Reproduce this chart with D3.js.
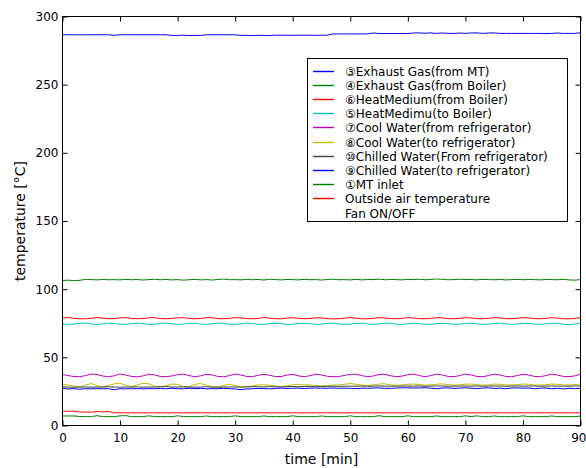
<!DOCTYPE html>
<html>
<head>
<meta charset="utf-8">
<script src="https://cdn.jsdelivr.net/npm/d3@7"></script>
<style>
  html, body { margin: 0; padding: 0; background: #fff; }
  svg { display: block; }
  text { font-family: "DejaVu Sans", "Liberation Sans", sans-serif; fill: #000; }
</style>
</head>
<body>
<svg id="chart" width="586" height="468"></svg>
<script>
// Sampling times (minutes)
const minutes = [0,1,2,3,4,5,6,7,8,9,10,11,12,13,14,15,16,17,18,19,20,21,22,23,24,25,26,27,28,29,30,31,32,33,34,35,36,37,38,39,40,41,42,43,44,45,46,47,48,49,50,51,52,53,54,55,56,57,58,59,60,61,62,63,64,65,66,67,68,69,70,71,72,73,74,75,76,77,78,79,80,81,82,83,84,85,86,87,88,89,90];

// Temperatures [°C] per measuring point
const exhaustGasMT = [286.6,286.6,286.6,286.5,286.6,286.6,286.6,286.6,286.6,286.2,286.6,286.6,286.6,286.6,286.6,286.6,286.6,286.6,286.6,286.1,286.1,286.3,286.0,286.2,286.1,286.6,286.6,286.6,286.6,286.6,286.6,286.1,286.2,286.0,286.2,286.1,286.0,286.3,286.3,286.3,286.2,286.3,286.3,286.3,286.2,286.3,286.3,287.2,287.2,287.2,287.2,287.2,287.2,287.3,287.9,287.5,287.5,287.5,287.5,287.5,287.5,287.9,288.0,287.7,288.0,287.6,287.9,287.6,287.6,287.9,287.6,287.9,288.0,287.6,287.9,288.0,287.6,287.6,287.6,287.6,287.6,287.6,287.6,287.6,287.5,287.6,287.9,287.6,287.6,287.6,288.1];
const exhaustGasBoiler = [106.4,106.6,106.2,106.5,107.2,107.0,106.8,107.1,106.9,107.0,106.8,107.2,106.9,107.1,106.7,107.0,107.3,106.9,107.1,106.8,107.0,106.6,106.9,107.2,106.8,107.0,106.7,107.1,107.4,106.9,107.0,106.8,107.2,106.9,107.1,106.7,107.3,107.0,106.8,107.1,107.0,106.8,107.2,106.9,107.0,106.7,107.1,107.3,106.9,107.0,106.8,107.2,106.8,107.1,107.0,107.4,106.9,107.1,107.0,106.8,107.2,107.0,107.3,106.9,107.1,107.5,107.2,106.9,107.0,107.3,107.0,107.1,106.8,107.2,107.0,106.9,107.1,106.8,107.0,107.2,106.9,107.1,107.0,106.8,107.1,107.0,106.9,107.2,106.8,106.6,107.0];
const heatMediumFromBoiler = [78.8,79.2,78.6,78.3,78.3,78.7,79.2,78.7,78.3,78.4,79.0,79.1,78.5,78.3,78.5,79.0,79.1,78.5,78.3,78.5,79.0,79.1,78.5,78.3,78.5,79.1,79.0,78.4,78.3,78.6,79.1,79.0,78.4,78.3,78.6,79.2,78.8,78.3,78.3,78.8,79.1,78.6,78.3,78.5,79.0,78.9,78.4,78.2,78.3,78.7,79.1,78.8,78.3,78.3,78.6,79.1,78.9,78.4,78.3,78.6,79.1,78.9,78.4,78.3,78.6,79.1,78.9,78.4,78.3,78.6,79.1,78.9,78.4,78.3,78.6,79.1,78.9,78.4,78.3,78.6,79.1,78.9,78.4,78.3,78.6,79.1,78.8,78.3,78.2,78.5,79.1];
const heatMediumToBoiler = [74.6,74.2,74.4,75.0,75.1,74.5,74.2,74.5,75.1,74.9,74.3,74.2,74.7,75.1,74.7,74.2,74.3,74.9,75.1,74.5,74.2,74.4,75.0,75.0,74.4,74.2,74.5,75.1,74.9,74.3,74.2,74.6,75.1,74.8,74.2,74.2,74.7,75.1,74.7,74.2,74.3,74.8,75.1,74.6,74.2,74.3,74.9,75.1,74.5,74.2,74.4,75.0,75.0,74.4,74.2,74.5,75.1,74.9,74.3,74.2,74.6,75.1,74.8,74.2,74.2,74.7,75.1,74.7,74.2,74.3,74.8,75.1,74.6,74.2,74.3,74.9,75.1,74.5,74.2,74.4,75.0,75.0,74.4,74.2,74.5,75.1,74.9,74.3,73.9,74.4,75.2];
const coolWaterFrom = [37.4,36.6,35.9,35.8,36.6,37.7,37.4,36.3,35.8,36.5,37.8,37.0,36.0,35.7,36.4,37.6,37.1,36.0,35.8,36.3,37.3,37.7,36.6,35.8,36.4,37.6,37.0,36.0,35.7,36.6,37.8,37.0,36.0,35.8,36.8,37.6,36.8,35.9,35.9,37.0,37.5,36.4,35.8,36.5,37.6,37.0,36.1,35.8,35.9,36.7,37.5,37.6,36.6,35.8,36.3,37.4,37.6,36.5,35.8,36.2,37.3,37.7,36.6,35.8,36.6,37.7,37.0,36.0,35.8,36.6,37.7,37.0,36.0,35.8,36.6,37.7,37.0,36.0,35.8,36.6,37.6,37.0,36.0,35.8,36.6,37.7,37.0,36.0,35.8,36.4,37.6];
const coolWaterTo = [30.0,29.8,28.8,28.4,29.6,30.8,29.2,28.3,29.4,30.6,31.0,29.6,28.4,29.8,31.0,30.6,28.8,28.2,29.2,30.4,30.2,28.6,28.4,30.2,30.8,29.6,28.3,28.4,29.4,30.2,29.4,28.3,28.4,29.0,29.8,29.8,29.6,29.0,28.5,29.2,29.8,30.0,29.8,29.7,29.4,29.0,29.3,29.6,29.8,30.2,30.8,30.2,29.6,29.4,29.8,30.4,30.6,29.8,29.5,29.7,30.2,30.4,30.0,29.6,29.8,30.3,30.5,30.0,29.6,29.8,30.3,30.4,29.9,29.6,29.8,30.4,30.2,29.8,29.7,30.0,30.4,30.2,29.7,29.6,29.9,30.4,30.2,29.8,29.7,30.0,30.4];
const chilledWaterFrom = [28.4,28.2,28.1,28.2,28.2,28.1,28.2,28.2,28.4,28.2,28.1,28.2,28.2,28.3,28.1,28.2,28.2,28.4,28.6,28.2,28.2,28.3,28.2,28.1,28.2,28.4,28.2,28.1,28.2,28.3,28.2,28.2,28.3,28.5,28.4,28.3,28.5,28.4,28.3,28.5,28.6,28.5,28.6,28.7,28.5,28.6,28.7,28.8,28.7,28.8,28.9,28.8,28.9,28.8,28.9,29.0,28.9,28.8,28.9,29.0,28.9,28.9,29.0,28.8,28.9,29.0,28.9,28.8,28.9,29.0,28.9,28.9,29.0,28.8,28.9,29.0,28.9,28.8,28.9,29.0,28.9,28.9,29.0,28.8,28.9,29.0,28.9,28.8,28.9,29.0,29.0];
const chilledWaterTo = [27.2,26.8,27.0,26.6,27.0,26.9,27.0,26.9,27.0,26.2,27.0,26.9,27.0,27.0,26.9,27.0,27.0,27.1,27.0,27.3,27.0,26.9,27.4,27.0,27.2,26.9,27.0,27.0,27.3,27.0,26.8,26.3,26.8,27.0,27.2,27.0,26.9,27.2,27.4,27.2,27.3,27.4,27.2,27.4,27.5,27.3,27.4,27.5,27.3,27.4,27.3,27.0,27.4,27.3,27.5,27.6,27.3,27.2,27.5,27.7,27.6,27.5,27.6,27.7,27.4,27.0,27.5,27.6,27.2,27.5,27.6,27.4,27.1,27.5,27.6,27.2,27.4,27.0,27.5,27.6,27.4,27.5,27.0,27.4,27.5,26.9,27.3,26.8,27.4,27.0,27.3];
const mtInlet = [7.0,7.0,7.0,6.6,6.5,6.5,7.2,6.5,6.5,6.5,7.1,7.2,6.5,6.5,6.5,7.1,6.5,6.5,6.5,6.5,7.1,6.6,6.5,6.5,6.5,7.0,6.5,6.5,6.5,6.5,7.1,6.5,6.5,6.5,6.5,7.0,6.5,6.5,6.5,6.5,7.1,6.5,6.5,6.5,6.5,7.0,6.5,6.5,6.5,6.5,7.1,6.5,6.5,6.5,6.5,7.2,6.5,6.5,6.5,6.5,7.1,6.5,6.5,6.5,6.5,7.0,6.5,6.5,6.5,6.5,7.1,6.5,7.1,6.5,6.5,7.0,6.5,6.5,6.5,6.5,7.1,6.5,6.5,6.5,6.5,7.0,6.5,6.5,6.5,6.5,6.9];
const outsideAir = [10.4,10.5,10.5,9.9,9.8,9.8,10.3,9.9,10.3,9.3,9.3,9.3,9.3,9.3,9.3,9.3,9.3,9.3,9.3,9.3,9.3,9.3,9.3,9.3,9.3,9.3,9.3,9.3,9.3,9.3,9.3,9.3,9.3,9.3,9.3,9.3,9.3,9.3,9.3,9.3,9.3,9.3,9.3,9.3,9.3,9.3,9.3,9.3,9.3,9.3,9.3,9.3,9.3,9.3,9.3,9.3,9.3,9.3,9.3,9.3,9.3,9.3,9.3,9.3,9.3,9.3,9.3,9.3,9.3,9.3,9.3,9.3,9.3,9.3,9.3,9.3,9.3,9.3,9.3,9.3,9.3,9.3,9.3,9.3,9.3,9.3,9.3,9.3,9.3,9.3,9.3];

// Legend entries (order as listed), colours and axis settings
const seriesNames = [
  "③Exhaust Gas(from MT)",
  "④Exhaust Gas(from Boiler)",
  "⑥HeatMedium(from Boiler)",
  "⑤HeatMedimu(to Boiler)",
  "⑦Cool Water(from refrigerator)",
  "⑧Cool Water(to refrigerator)",
  "⑩Chilled Water(From refrigerator)",
  "⑨Chilled Water(to refrigerator)",
  "①MT inlet",
  "Outside air temperature",
  "Fan ON/OFF"
];
const seriesValues = [exhaustGasMT, exhaustGasBoiler, heatMediumFromBoiler, heatMediumToBoiler,
  coolWaterFrom, coolWaterTo, chilledWaterFrom, chilledWaterTo, mtInlet, outsideAir, null];
const seriesColors = ["#0000ff", "#008000", "#ff0000", "#00bfbf", "#bf00bf", "#bfbf00",
  "#404040", "#0000ff", "#008000", "#ff0000", null];
const xTicks = [0, 10, 20, 30, 40, 50, 60, 70, 80, 90];
const yTicks = [0, 50, 100, 150, 200, 250, 300];
const xLabel = "time [min]";
const yLabel = "temperature [°C]";

const svg = d3.select("#chart");
const plot = { left: 62.5, right: 580.5, top: 16.5, bottom: 425.5 };

const x = d3.scaleLinear().domain([0, 90]).range([plot.left, plot.right]);
const y = d3.scaleLinear().domain([0, 300]).range([plot.bottom, plot.top]);

// Data lines (drawn first so the frame sits on top)
const line = d3.line().x((d, i) => x(minutes[i])).y(d => y(d));
const lines = svg.append("g").attr("fill", "none").attr("stroke-width", 1);
seriesValues.forEach((vals, k) => {
  if (!vals) return;
  lines.append("path").datum(vals)
    .attr("d", line)
    .attr("stroke", seriesColors[k])
    .attr("stroke-linejoin", "round");
});

// Axes with inward ticks on all four sides
const tickLen = 5;
const styleAxis = g => {
  g.select(".domain").remove();
  g.selectAll(".tick line").attr("stroke", "#000");
  g.selectAll("text").style("font-size", "12px")
    .style("font-family", "'DejaVu Sans', sans-serif").attr("fill", "#000");
};
const xAxisG = svg.append("g").attr("transform", `translate(0,${plot.bottom})`)
  .call(d3.axisBottom(x).tickValues(xTicks).tickSizeInner(-tickLen).tickSizeOuter(0).tickPadding(8))
  .call(styleAxis);
// keep the last time label inside the page
xAxisG.selectAll(".tick").filter(d => d === 90).select("text")
  .attr("text-anchor", "end").attr("x", 586 - plot.right);
svg.append("g").attr("transform", `translate(${plot.left},0)`)
  .call(d3.axisLeft(y).tickValues(yTicks).tickSizeInner(-tickLen).tickSizeOuter(0).tickPadding(4))
  .call(styleAxis);
svg.append("g").attr("transform", `translate(0,${plot.top})`)
  .call(d3.axisTop(x).tickValues(xTicks).tickSizeInner(-tickLen).tickSizeOuter(0).tickFormat(""))
  .call(styleAxis);
svg.append("g").attr("transform", `translate(${plot.right},0)`)
  .call(d3.axisRight(y).tickValues(yTicks).tickSizeInner(-tickLen).tickSizeOuter(0).tickFormat(""))
  .call(styleAxis);

// Frame
svg.append("rect")
  .attr("x", plot.left).attr("y", plot.top)
  .attr("width", plot.right - plot.left).attr("height", plot.bottom - plot.top)
  .attr("fill", "none").attr("stroke", "#000").attr("stroke-width", 1);

// Axis titles
svg.append("text")
  .attr("x", (plot.left + plot.right) / 2).attr("y", 464)
  .attr("text-anchor", "middle").style("font-size", "14px")
  .text(xLabel);
svg.append("text")
  .attr("transform", `translate(25,${(plot.top + plot.bottom) / 2}) rotate(-90)`)
  .attr("text-anchor", "middle").style("font-size", "14px")
  .text(yLabel);

// Legend: box, colour swatches (thin filled bars) and labels
const lg = svg.append("g");
lg.append("rect")
  .attr("x", 307.5).attr("y", 58.5).attr("width", 260).attr("height", 163)
  .attr("fill", "#fff").attr("stroke", "#000").attr("stroke-width", 1);
seriesNames.forEach((name, k) => {
  const cy = Math.round(70.5 + k * 14.2);
  if (seriesColors[k]) {
    lg.append("rect")
      .attr("x", 313).attr("y", cy - 0.2).attr("width", 21).attr("height", 1.4)
      .attr("fill", seriesColors[k]);
  }
  lg.append("text")
    .attr("x", 345).attr("y", cy + 0.5).attr("dy", "0.35em")
    .style("font-size", "12px")
    .text(name);
});
</script>
</body>
</html>
